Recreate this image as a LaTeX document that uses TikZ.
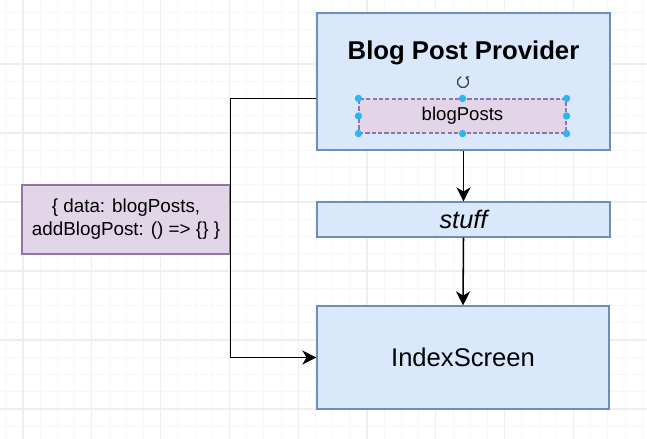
\documentclass[tikz,border=0pt]{standalone}
\usepackage{fontspec}
\setmainfont{Liberation Sans}
\usetikzlibrary{arrows.meta}
\definecolor{bluefill}{HTML}{DAE8FC}
\definecolor{blueline}{HTML}{6C8EBF}
\definecolor{purplefill}{HTML}{E1D5E7}
\definecolor{purpleline}{HTML}{9673A6}
\definecolor{handleblue}{HTML}{29B6F2}
\definecolor{gridminor}{HTML}{F7F7F7}
\definecolor{gridmajor}{HTML}{EEEEEE}
\begin{document}
\begin{tikzpicture}[x=0.025cm, y=-0.025cm,
  bluebox/.style={draw=blueline, fill=bluefill, line width=0.8pt, inner sep=0pt},
  purplebox/.style={draw=purpleline, fill=purplefill, line width=0.8pt, inner sep=0pt},
  conn/.style={line width=1.1pt, -{Stealth[length=10pt,width=10pt,inset=3pt]}}]
\useasboundingbox (0,0) rectangle (647,439);
\fill[white] (0,0) rectangle (647,439);
% grid
\foreach \i in {-1,...,36} \draw[gridminor, line width=0.7pt] ({23+17.2*\i},0) -- ({23+17.2*\i},439);
\foreach \i in {1,...,25} \draw[gridminor, line width=0.7pt] (0,{-5+17.25*\i}) -- (647,{-5+17.25*\i});
\foreach \i in {0,...,8} \draw[gridmajor, line width=0.8pt] ({23+68.8*\i},0) -- ({23+68.8*\i},439);
\foreach \i in {1,...,6} \draw[gridmajor, line width=0.8pt] (0,{-5+69*\i}) -- (647,{-5+69*\i});
% boxes
\node[bluebox, minimum width=7.325cm, minimum height=3.425cm] (provider) at (463.5,81.5) {};
\node[font=\fontsize{18.3}{22}\selectfont\bfseries] (title) at (463.5,53) {Blog Post Provider};
\node[purplebox, dash pattern=on 3pt off 1.5pt, minimum width=5.175cm, minimum height=0.85cm,
  font=\fontsize{13.2}{16}\selectfont] (posts) at (462.5,116) {blogPosts};
\node[bluebox, minimum width=7.325cm, minimum height=0.875cm,
  font=\fontsize{18}{22}\selectfont\itshape] (stuff) at (463.5,219.5) {stuff};
\node[bluebox, minimum width=7.3cm, minimum height=2.575cm,
  font=\fontsize{18.2}{22}\selectfont] (index) at (463,357.5) {IndexScreen};
\node[purplebox, minimum width=5.2cm, minimum height=1.725cm, align=center,
  font=\fontsize{13.4}{16.3}\selectfont] (ctx) at (126,219.5) {\{ data: blogPosts,\\addBlogPost: () => \{\} \}};
% selection handles
\foreach \a in {north west, north, north east, west, east, south west, south, south east}
  \fill[handleblue] (posts.\a) circle[radius=2.6pt];
\coordinate (rot) at (463,82);
\draw[black!75, line width=0.9pt, -{Stealth[length=2.5pt,width=3.6pt]}] (rot) ++(110:4pt) arc[start angle=110, end angle=425, radius=4pt];
% connectors
\draw[conn] (provider.west |- posts.north) -| (ctx.east |- index.west) -- (index.west);
\draw[conn] (provider.south) -- (stuff.north);
\draw[conn] (stuff.south) -- (index.north);
\end{tikzpicture}
\end{document}
